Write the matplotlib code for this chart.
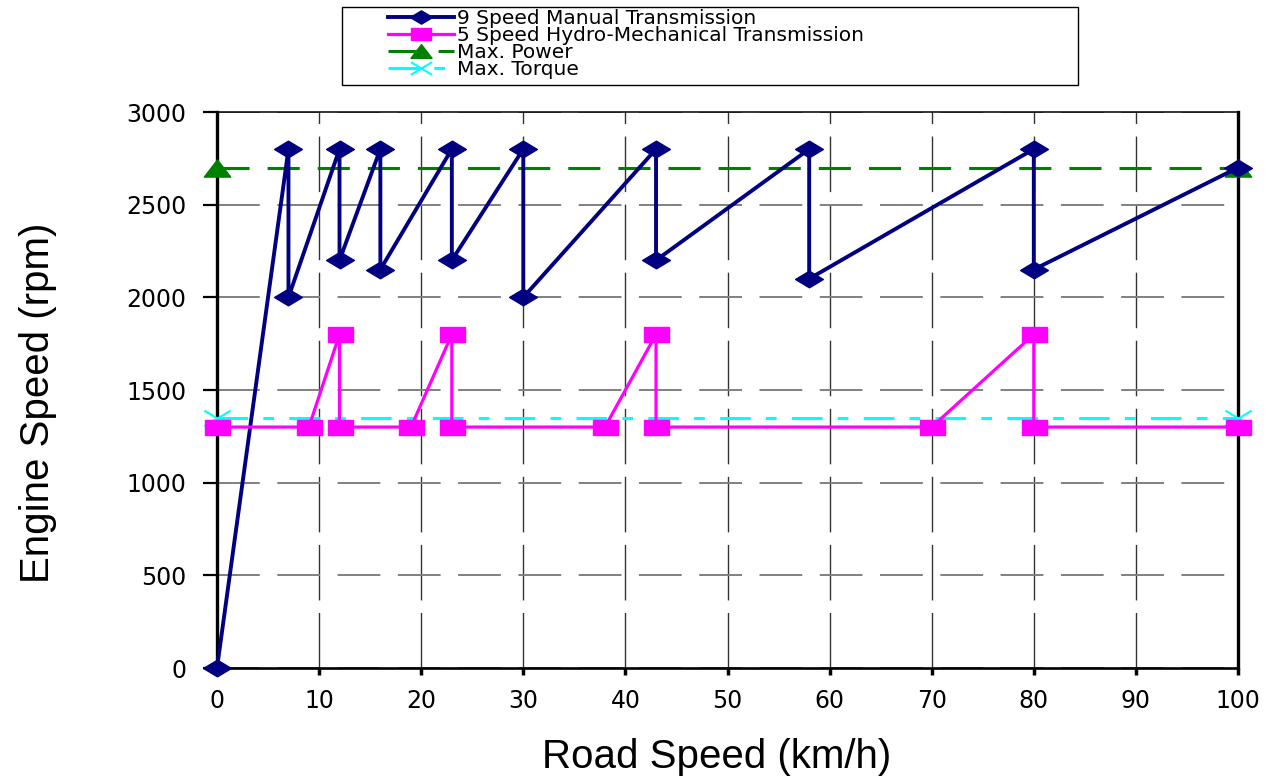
import matplotlib.pyplot as plt
from matplotlib.patches import Rectangle
from matplotlib.path import Path

# Road speed (km/h) / engine speed (rpm)
manual_speed = [0, 7, 7, 12, 12, 16, 16, 23, 23, 30, 30, 43, 43, 58, 58, 80, 80, 100]
manual_rpm = [0, 2800, 2000, 2800, 2200, 2800, 2150, 2800, 2200, 2800, 2000,
              2800, 2200, 2800, 2100, 2800, 2150, 2700]

hydro_speed = [0, 9, 12, 12, 19, 23, 23, 38, 43, 43, 70, 80, 80, 100]
hydro_rpm = [1300, 1300, 1800, 1300, 1300, 1800, 1300, 1300, 1800, 1300,
             1300, 1800, 1300, 1300]

power_speed = [0, 100]
power_rpm = [2700, 2700]

torque_speed = [0, 100]
torque_rpm = [1350, 1350]

x_ticks = list(range(0, 101, 10))
y_ticks = list(range(0, 3001, 500))

# flattened markers (the original chart is stretched horizontally)
diamond = Path([(-1, 0), (0, 0.6), (1, 0), (0, -0.6), (-1, 0)], closed=True)
square = Path([(-1, -0.6), (1, -0.6), (1, 0.6), (-1, 0.6), (-1, -0.6)], closed=True)
triangle = Path([(-1, -0.65), (1, -0.65), (0, 0.65), (-1, -0.65)], closed=True)
cross = Path([(-1, -0.6), (1, 0.6), (-1, 0.6), (1, -0.6)],
             [Path.MOVETO, Path.LINETO, Path.MOVETO, Path.LINETO])

W, H = 1272, 778
fig = plt.figure(figsize=(W / 100, H / 100), dpi=100)
ax = fig.add_axes([217 / W, 1 - 668 / H, (1238 - 217) / W, (668 - 112) / H])

ax.plot(manual_speed, manual_rpm, color='#000080', lw=2.8, marker=diamond, ms=20,
        label='9 Speed Manual Transmission', clip_on=False, zorder=4)
ax.plot(hydro_speed, hydro_rpm, color='#FF00FF', lw=2.3, marker=square, ms=18,
        label='5 Speed Hydro-Mechanical Transmission', clip_on=False, zorder=4)
ax.plot(power_speed, power_rpm, color='#008000', lw=2.2, ls=(0, (10.5, 5.9)),
        marker=triangle, ms=19, label='Max. Power', clip_on=False, zorder=3)
ax.plot(torque_speed, torque_rpm, color='#00FFFF', lw=2.2, ls=(0, (10, 5, 3.5, 5)),
        marker=cross, ms=19, mew=1.5, label='Max. Torque', clip_on=False, zorder=3)

ax.set_xlim(0, 100)
ax.set_ylim(0, 3000)
ax.set_xticks(x_ticks)
ax.set_yticks(y_ticks)

ax.grid(axis='y', color='#808080', lw=1.4, ls=(0, (22, 9)))
ax.grid(axis='x', color='#333333', lw=1.0, ls=(0, (40, 9)))

ax.tick_params(axis='y', direction='out', length=10, width=1.6, pad=12,
               labelsize=17)
ax.tick_params(axis='x', direction='out', length=5, width=2.5, pad=10,
               labelsize=17)
for lab in ax.get_xticklabels() + ax.get_yticklabels():
    lab.set_family('DejaVu Sans')

ax.spines['left'].set_linewidth(2.4)
ax.spines['right'].set_linewidth(2.4)
ax.spines['bottom'].set_linewidth(1.9)
ax.spines['top'].set_linewidth(1.1)

ax.set_xlabel('Road Speed (km/h)', fontsize=29, family='Liberation Sans', va='center')
ax.set_ylabel('Engine Speed (rpm)', fontsize=29, family='Liberation Sans', va='center')
ax.xaxis.set_label_coords(0.489, -0.16)
ax.yaxis.set_label_coords(-0.175, 0.477)

# legend box at top of figure
fig.patches.append(Rectangle((342 / W, 1 - 85 / H), (1078 - 342) / W, 78 / H,
                             transform=fig.transFigure, fill=False,
                             edgecolor='black', lw=1.0))
fig.legend(loc='upper left', bbox_to_anchor=(388 / W, 1 - 9 / H), frameon=False,
           prop={'family': 'DejaVu Sans', 'size': 14.5},
           handlelength=3.3, handletextpad=0.15, labelspacing=-0.1,
           borderpad=0, borderaxespad=0, numpoints=1, markerscale=0.8)

fig.savefig('out.png', dpi=100)
